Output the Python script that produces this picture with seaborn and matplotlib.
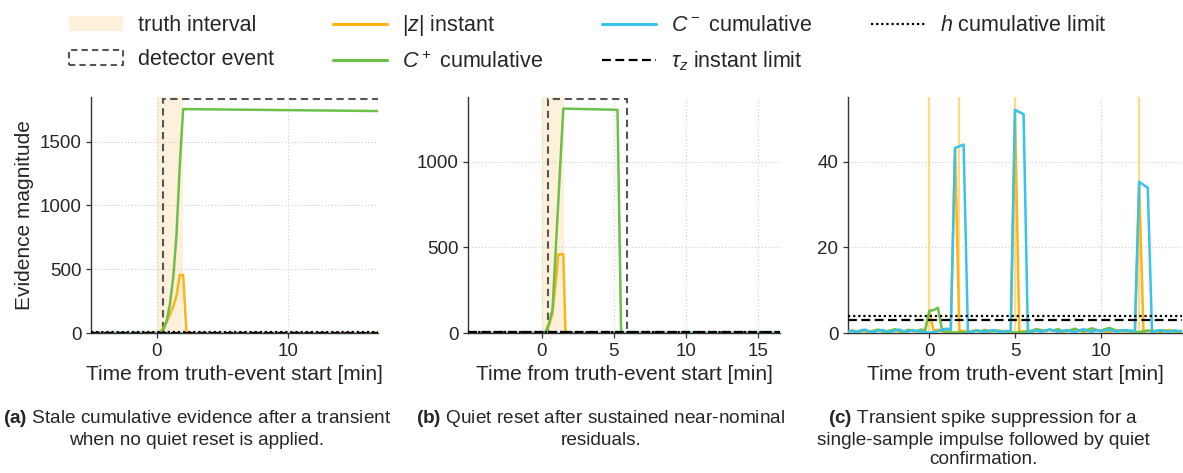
import numpy as np
import pandas as pd
import matplotlib
matplotlib.use("Agg")
import matplotlib.pyplot as plt
import matplotlib.transforms as mtransforms
from matplotlib.patches import Rectangle, Patch
from matplotlib.lines import Line2D
import seaborn as sns

# ---------------- data ----------------
# Panel (a): no quiet reset
T_A = [-5.0, 0.0, 0.25, 0.5, 0.75, 1.0, 1.25, 1.5, 1.75, 2.0, 2.25, 16.8]
Z_A = [0, 0, 10, 40, 85, 145, 210, 295, 455, 455, 0, 0]
CP_A = [0, 0, 3, 25, 95, 230, 440, 780, 1330, 1755, 1755, 1740]
CM_A = [0, 0, 0, 0, 0, 0, 0, 0, 0, 0, 0, 0]
TRUTH_A = (0.0, 2.0)
DET_A = (0.45, 30.0)

# Panel (b): quiet reset
T_B = [-5.1, 0.0, 0.25, 0.5, 0.75, 1.0, 1.15, 1.25, 1.5, 1.65, 5.25, 5.5, 16.5]
Z_B = [0, 0, 0, 40, 115, 320, 460, 460, 460, 0, 0, 0, 0]
CP_B = [0, 0, 0, 55, 135, 530, 765, 925, 1312, 1312, 1305, 0, 0]
CM_B = [0, 0, 0, 0, 0, 0, 0, 0, 0, 0, 0, 0, 0]
TRUTH_B = (0.0, 1.55)
DET_B = (0.42, 5.92)

# Panel (c): transient spike suppression (sampled every 15 s)
T_C = np.arange(-4.75, 14.76, 0.25)
Z_C = [0.4, 0.5, 0.3, 0.6, 0.4, 0.3, 0.5, 0.7, 0.4, 0.3, 0.6, 0.5, 0.4, 0.3, 0.7, 0.5,
       0.4, 0.6, 0.5, 5.0, 0.5, 0.8, 0.4, 0.3, 0.5, 43.0, 0.6, 0.4, 0.3, 0.5, 0.6, 0.4,
       0.5, 0.3, 0.6, 0.4, 0.5, 0.3, 0.4, 52.0, 0.3, 0.4, 0.5, 0.3, 0.6, 0.5, 0.4, 0.7,
       0.5, 0.4, 0.3, 0.6, 0.5, 0.4, 0.6, 0.3, 0.5, 0.4, 0.7, 0.5, 0.4, 0.3, 0.5, 0.6,
       0.4, 0.5, 0.3, 0.4, 35.0, 0.3, 0.5, 0.6, 0.4, 0.3, 0.5, 0.7, 0.4, 0.3, 0.5]
CP_C = [0.3, 0.6, 0.2, 0.4, 0.7, 0.3, 0.5, 0.8, 0.4, 0.3, 0.6, 0.9, 0.5, 0.3, 0.7, 0.6,
        0.4, 0.8, 0.6, 5.2, 5.35, 5.9, 0.5, 0.3, 0.2, 0.1, 0.2, 0.1, 0.3, 0.2, 0.6, 0.4,
        0.7, 0.5, 0.4, 0.6, 0.3, 0.5, 0.2, 0.1, 0.2, 0.1, 0.4, 0.6, 0.9, 0.7, 0.5, 0.8,
        0.6, 0.9, 0.5, 0.4, 0.7, 1.0, 0.6, 0.5, 0.8, 1.1, 0.7, 0.5, 0.9, 1.2, 0.8, 0.5,
        0.7, 0.4, 0.6, 0.3, 0.2, 0.4, 0.6, 0.3, 0.5, 0.4, 0.6, 0.3, 0.5, 0.4, 0.3]
CM_C = [0.3, 0.5, 0.2, 0.6, 0.8, 0.3, 0.2, 0.5, 0.7, 0.4, 0.2, 0.6, 0.8, 0.4, 0.3, 0.7,
        0.5, 0.3, 0.2, 0.1, 0.2, 0.4, 0.8, 1.0, 0.8, 43.2, 43.6, 44.0, 0.2, 0.3, 0.6, 0.4,
        0.2, 0.5, 0.7, 0.3, 0.2, 0.4, 0.5, 52.1, 51.6, 51.1, 0.2, 0.4, 0.6, 0.3, 0.5, 0.8,
        0.6, 0.3, 0.5, 0.7, 0.4, 0.2, 0.6, 0.9, 0.5, 0.3, 0.7, 0.4, 0.6, 0.8, 0.5, 0.3,
        0.6, 0.7, 0.4, 0.5, 35.3, 34.6, 33.9, 0.2, 0.5, 0.7, 0.4, 0.3, 0.6, 0.5, 0.4]
TRUTH_C = [0.0, 1.75, 5.0, 12.25]

TAU_Z = 3.0
H_LIM = 4.0

XLIMS = [(-5.0, 16.8), (-5.1, 16.5), (-4.75, 14.75)]
YLIMS = [(0, 1850), (0, 1380), (0, 55.1)]
XTICKS = [[0, 10], [0, 5, 10, 15], [0, 5, 10]]
YTICKS = [[0, 500, 1000, 1500], [0, 500, 1000], [0, 20, 40]]

CAPTIONS = [
    r"$\mathbf{(a)}$ Stale cumulative evidence after a transient" "\n" "when no quiet reset is applied.",
    r"$\mathbf{(b)}$ Quiet reset after sustained near-nominal" "\n" "residuals.",
    r"$\mathbf{(c)}$ Transient spike suppression for a" "\n" "single-sample impulse followed by quiet" "\n" "confirmation.",
]

# ---------------- style ----------------
sns.set_theme(style="ticks")
plt.rcParams["font.family"] = ["Liberation Sans", "DejaVu Sans"]
plt.rcParams["mathtext.fontset"] = "custom"
plt.rcParams["mathtext.rm"] = "Liberation Sans"
plt.rcParams["mathtext.it"] = "Liberation Sans:italic"
plt.rcParams["mathtext.bf"] = "Liberation Sans:bold"

C_Z = "#FDB515"
C_P = "#6CC04A"
C_M = "#38C2EC"
C_TRUTH = "#FEF0DA"
C_TRUTH_LINE = "#FFD98C"
C_DET = "#555555"

fig = plt.figure(figsize=(11.83, 4.73), dpi=100)
W, H = 1183.0, 473.0
bottom_px, top_px = 333.0, 97.0
lefts = [(91, 378), (468, 780), (848, 1182)]
axes = []
for (l, r) in lefts:
    ax = fig.add_axes([l / W, (H - bottom_px) / H, (r - l) / W, (bottom_px - top_px) / H])
    axes.append(ax)

panels = [
    (T_A, Z_A, CP_A, CM_A),
    (T_B, Z_B, CP_B, CM_B),
    (T_C, Z_C, CP_C, CM_C),
]

for i, ax in enumerate(axes):
    t, z, cp, cm = panels[i]
    df = pd.DataFrame({"t": t, "z": z, "cp": cp, "cm": cm})
    ax.set_xlim(*XLIMS[i])
    ax.set_ylim(*YLIMS[i])
    ax.grid(True, linestyle=(0, (1, 2)), color="#cfcfcf", linewidth=0.8)
    ax.set_axisbelow(True)

    # truth interval
    if i < 2:
        tr = TRUTH_A if i == 0 else TRUTH_B
        ax.axvspan(tr[0], tr[1], color=C_TRUTH, lw=0, zorder=0.5)
    else:
        for tc in TRUTH_C:
            ax.axvline(tc, color=C_TRUTH_LINE, lw=1.6, zorder=0.6)

    # detector event
    if i < 2:
        det = DET_A if i == 0 else DET_B
        trans = mtransforms.blended_transform_factory(ax.transData, ax.transAxes)
        rect = Rectangle((det[0], 0.0), det[1] - det[0], 0.993, transform=trans,
                         fill=False, edgecolor=C_DET, linestyle=(0, (3.5, 2.2)),
                         lw=1.5, zorder=1.0, clip_on=True)
        ax.add_patch(rect)

    sns.lineplot(data=df, x="t", y="z", ax=ax, color=C_Z, lw=1.8, zorder=2, sort=False)
    sns.lineplot(data=df, x="t", y="cp", ax=ax, color=C_P, lw=1.8, zorder=3, sort=False)
    sns.lineplot(data=df, x="t", y="cm", ax=ax, color=C_M, lw=1.8, zorder=4, sort=False)

    ax.axhline(H_LIM, color="black", lw=1.6, linestyle=(0, (1, 1.3)), zorder=5)
    ax.axhline(TAU_Z, color="black", lw=1.6, linestyle=(0, (4, 2)), zorder=5)

    ax.set_xticks(XTICKS[i])
    ax.set_yticks(YTICKS[i])
    ax.tick_params(axis="both", labelsize=13.5, length=3.5, width=0.9, color="#333333")
    ax.set_xlabel("Time from truth-event start [min]", fontsize=15)
    ax.set_ylabel("Evidence magnitude" if i == 0 else "", fontsize=15)
    for s in ["top", "right"]:
        ax.spines[s].set_visible(False)
    for s in ["left", "bottom"]:
        ax.spines[s].set_color("#333333")
        ax.spines[s].set_linewidth(1.0)

# captions
cap_x = [197, 601, 983]
for cx, cap in zip(cap_x, CAPTIONS):
    fig.text(cx / W, 1 - 408 / H, cap, ha="center", va="top", fontsize=13.7,
             multialignment="center", linespacing=1.2)

# legend
handles = [
    Patch(facecolor=C_TRUTH, edgecolor="none"),
    Patch(facecolor="none", edgecolor=C_DET, linestyle=(0, (3, 2)), lw=1.5),
    Line2D([], [], color=C_Z, lw=2.2),
    Line2D([], [], color=C_P, lw=2.2),
    Line2D([], [], color=C_M, lw=2.2),
    Line2D([], [], color="black", lw=1.6, linestyle=(0, (4, 2))),
    Line2D([], [], color="black", lw=1.6, linestyle=(0, (1, 1.3))),
]
labels = [
    "truth interval",
    "detector event",
    r"$|z|$ instant",
    r"$C^+$ cumulative",
    r"$C^-$ cumulative",
    r"$\tau_z$ instant limit",
    r"$h$ cumulative limit",
]
fig.legend(handles, labels, ncol=4, loc="upper center",
           bbox_to_anchor=(588 / W, 1 - 9 / H), frameon=False, fontsize=15.5,
           handlelength=2.5, handletextpad=0.7, columnspacing=2.75, labelspacing=0.6,
           borderaxespad=0.0, borderpad=0.2)

fig.savefig("out.png", dpi=100)
